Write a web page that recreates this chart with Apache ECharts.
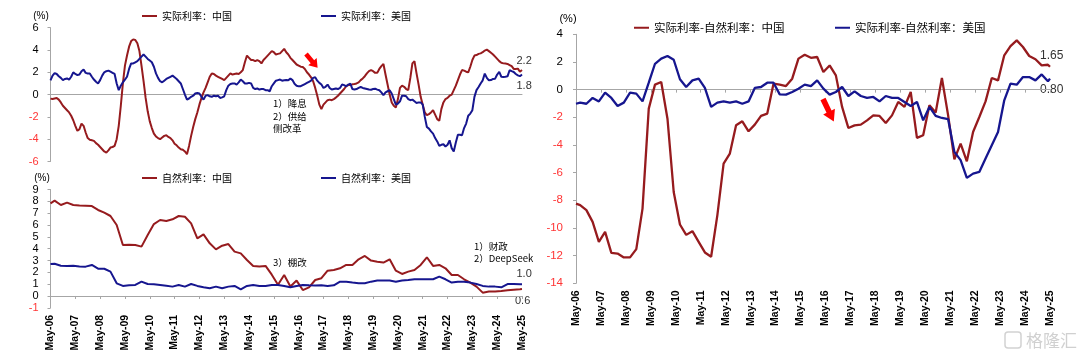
<!DOCTYPE html>
<html><head><meta charset="utf-8">
<script src="https://cdn.jsdelivr.net/npm/echarts@6/dist/echarts.min.js"></script>
<style>html,body{margin:0;padding:0;background:#fff}#c{width:1080px;height:355px}</style>
</head><body><div id="c"></div>
<script>
// monthly categories May-06 .. May-25
const MON=['Jan','Feb','Mar','Apr','May','Jun','Jul','Aug','Sep','Oct','Nov','Dec'];
const months=[];
for(let i=0;i<229;i++){const t=4+i;months.push(MON[t%12]+'-'+String(6+Math.floor(t/12)).padStart(2,'0'));}

// top-left: real rates (monthly)
const realChina=[
-0.36,-0.40,-0.35,-0.30,-0.45,-0.70,-1.00,-1.20,-1.40,-1.60,-1.90,-2.30,
-2.80,-3.25,-3.10,-2.60,-2.80,-3.40,-3.90,-4.05,-4.10,-4.15,-4.35,-4.50,
-4.70,-4.90,-5.10,-5.20,-5.00,-4.75,-4.70,-4.60,-4.00,-2.80,-1.00,1.00,
2.60,3.50,4.30,4.80,4.95,4.90,4.60,3.90,2.60,1.20,-0.30,-1.50,
-2.40,-3.00,-3.50,-3.75,-3.90,-4.00,-3.85,-3.70,-3.65,-3.80,-3.90,-4.10,
-4.40,-4.55,-4.75,-4.90,-4.95,-5.10,-5.35,-4.60,-3.70,-2.90,-2.20,-1.60,
-0.90,-0.30,0.20,0.60,1.10,1.60,1.90,1.85,1.70,1.60,1.50,1.40,
1.30,1.50,1.70,1.90,1.80,1.85,1.90,1.85,2.00,2.20,2.90,3.50,
3.30,3.10,3.10,3.00,3.10,3.00,2.80,3.10,3.30,3.50,3.70,3.90,
3.80,3.60,3.65,3.70,3.90,4.10,3.80,3.60,3.30,3.10,2.90,2.70,
2.60,2.50,2.47,2.30,2.00,1.80,1.55,1.20,0.60,-0.10,-0.90,-1.30,
-0.90,-0.70,-0.50,-0.45,-0.50,-0.40,-0.27,-0.10,0.10,0.30,0.50,0.75,
0.85,0.85,0.92,0.95,1.00,1.10,1.30,1.45,1.65,1.90,2.10,2.20,
2.10,1.95,1.95,2.30,2.55,2.75,1.80,0.90,0.00,-0.70,-1.00,-1.15,
-0.40,0.60,0.80,0.70,0.50,0.40,1.50,2.80,3.00,1.90,0.90,-0.20,
-0.90,-1.60,-1.85,-1.75,-1.60,-1.40,-1.80,-2.20,-2.35,-1.30,-0.70,-0.40,
-0.30,-0.10,0.00,0.40,0.80,1.30,1.80,2.20,2.15,2.05,2.00,2.50,
3.10,3.50,3.55,3.65,3.70,3.80,3.95,4.03,3.90,3.75,3.60,3.40,
3.20,3.00,2.85,2.80,2.78,2.75,2.65,2.55,2.30,2.30,2.33,2.05,
2.20];
const realUS=[
1.28,1.70,1.93,1.85,1.65,1.50,1.30,1.40,1.45,1.35,1.60,2.00,
1.85,1.75,1.80,2.10,2.25,1.95,1.90,1.90,1.60,1.35,1.15,1.00,
1.30,1.70,2.00,2.10,2.15,2.05,1.95,1.85,1.00,0.40,0.80,1.10,
1.35,1.60,2.30,2.80,2.80,2.90,3.00,3.20,3.40,3.60,3.40,3.20,
3.05,2.90,2.50,1.90,1.50,1.20,1.10,1.25,1.40,1.50,1.60,1.70,
1.55,1.40,1.20,1.00,0.50,0.00,-0.45,-0.35,-0.20,-0.10,0.10,0.15,
0.10,-0.20,-0.45,-0.10,-0.05,-0.15,-0.20,-0.10,-0.15,-0.10,-0.30,-0.25,
-0.15,0.40,0.80,0.95,1.00,1.00,0.90,1.10,1.35,1.20,1.00,1.00,
1.05,1.00,0.60,0.50,0.55,0.45,0.50,0.50,0.40,0.40,0.30,0.75,
1.00,1.25,1.30,1.35,1.25,1.28,1.30,1.28,1.45,1.30,0.98,0.80,
0.74,0.75,0.85,0.95,1.05,1.15,1.25,1.50,1.55,1.25,1.05,0.90,
0.60,0.70,0.90,0.60,0.45,0.50,0.55,0.50,0.60,0.90,0.85,0.74,
0.90,0.98,0.50,0.45,0.50,0.60,0.68,0.60,0.55,0.50,0.45,0.44,
0.50,0.53,0.45,0.39,0.20,-0.06,0.20,0.30,0.39,0.10,-0.40,-0.90,
-0.80,-0.60,-0.10,-0.10,-0.15,-0.40,-0.50,-0.45,-0.60,-0.75,-0.70,-0.70,
-0.90,-2.00,-2.90,-3.05,-3.30,-3.50,-3.90,-4.20,-4.60,-4.50,-4.45,-4.65,
-4.50,-4.10,-4.80,-5.10,-4.30,-3.60,-3.60,-3.65,-3.00,-2.60,-1.90,-1.70,
-1.40,-0.20,0.40,0.68,1.00,1.28,1.88,1.50,1.28,1.30,1.40,1.43,
1.80,2.03,1.60,1.58,1.60,1.64,2.18,2.10,2.03,1.85,1.73,1.65,
1.80];

// quarterly observation months (index into months)
const qMonths=[
0,2,5,8,11,14,17,20,23,26,29,
32,35,38,41,44,47,50,53,56,59,62,
65,68,71,74,77,80,83,86,89,92,95,
98,101,104,107,110,113,116,119,122,125,128,
131,134,137,140,143,146,149,152,155,158,161,
164,167,170,173,176,179,182,185,188,191,194,
197,200,203,206,209,212,215,218,221,224,227,
228];
// bottom-left: natural rates
const naturalChina=[
7.83,8.06,7.69,7.89,7.69,7.65,7.63,7.6,7.27,7.04,6.76,
6.0,4.31,4.34,4.31,4.17,5.15,6.08,6.42,6.34,6.48,6.76,
6.7,6.14,4.87,5.21,4.45,3.94,4.25,4.39,3.75,3.6,3.04,
2.54,2.5,2.54,1.8,0.95,1.77,0.8,1.3,0.5,0.73,1.35,
1.5,2.14,2.2,2.34,2.62,2.62,3.1,3.38,2.99,2.9,2.82,
3.1,2.14,1.86,2.06,2.2,2.62,3.27,2.54,2.62,2.34,1.77,
1.77,1.41,1.13,0.79,0.28,0.37,0.37,0.42,0.48,0.52,0.56,
0.58];
const naturalUS=[
2.7,2.72,2.55,2.54,2.56,2.5,2.48,2.62,2.31,2.3,2.06,
1.07,0.85,0.9,0.93,1.21,1.01,0.99,0.93,0.87,0.79,0.93,
0.79,1.01,0.85,0.73,0.65,0.79,0.65,0.79,0.85,0.56,0.85,
0.93,0.85,0.85,0.93,0.93,0.85,0.73,0.85,0.93,0.9,0.88,
0.9,0.85,0.9,1.21,1.21,1.13,1.07,1.07,1.21,1.3,1.3,
1.3,1.21,1.3,1.35,1.41,1.41,1.41,1.41,1.63,1.41,1.13,
1.21,1.21,1.13,1.01,0.85,0.79,0.79,0.73,1.01,1.01,1.0,
1.0];
// right: real minus natural
const gapChina=[
-8.24,-8.35,-8.71,-9.56,-11.0,-10.28,-11.8,-11.85,-12.13,-12.13,-11.53,
-8.6,-1.37,0.36,0.55,-2.1,-7.4,-9.75,-10.5,-10.23,-11.0,-11.77,
-12.08,-9.07,-5.35,-4.62,-2.58,-2.29,-3.01,-2.53,-1.9,-1.73,0.43,
0.36,0.26,0.79,2.24,2.52,2.3,2.36,1.27,1.75,1.03,-1.25,
-2.77,-2.58,-2.53,-2.22,-1.86,-1.9,-2.41,-1.86,-0.89,-1.25,-0.17,
-3.49,-3.3,-1.13,-1.66,0.84,-1.86,-5.04,-3.9,-5.18,-3.06,-1.98,
-0.85,0.84,0.67,2.48,3.15,3.56,3.08,2.43,2.2,1.75,1.8,
1.65];
const gapUS=[
-1.02,-0.94,-1.02,-0.6,-0.85,-0.22,-0.6,-1.18,-0.94,-0.22,-0.29,
-0.85,0.5,1.87,2.24,2.43,2.16,0.75,0.19,0.67,0.79,0.12,
-1.25,-0.94,-0.85,-0.94,-0.85,-1.02,-0.85,0.12,0.19,0.5,0.5,
-0.34,-0.36,-0.17,0.07,0.36,0.26,0.67,0.07,-0.36,-0.17,0.19,
-0.46,-0.12,-0.46,-0.6,-0.53,-0.85,-0.46,-0.6,-0.6,-0.89,-1.18,
-0.89,-2.22,-1.25,-1.9,-2.05,-2.14,-4.5,-5.1,-6.38,-6.07,-5.95,
-4.98,-4.02,-3.06,-0.77,0.43,0.36,0.91,0.91,0.67,1.1,0.6,
0.8];

const names=['实际利率：中国','实际利率：美国','自然利率：中国','自然利率：美国','实际利率-自然利率：中国','实际利率-自然利率：美国'];
const RED='#961b1e', BLUE='#16168f', AX='#a6a6a6';
const NUM='"Liberation Sans", Arial, sans-serif';
const CJK='"Noto Sans CJK SC", sans-serif';
const q=vals=>qMonths.map((m,i)=>[m,vals[i]]);
const last=a=>a[a.length-1];

const chart=echarts.init(document.getElementById('c'),null,{renderer:'canvas'});
const xBase={type:'category',data:months,boundaryGap:false};
const zeroAxis=(g,ticks)=>Object.assign({},xBase,{gridIndex:g,position:'top',
  axisLine:{show:true,onZero:true,lineStyle:{color:AX,width:1}},
  axisTick:{show:ticks,inside:true,length:3,interval:11,lineStyle:{color:AX}},
  axisLabel:{show:false},splitLine:{show:false}});
const labelAxis=g=>Object.assign({},xBase,{gridIndex:g,position:'bottom',
  axisLine:{show:false,onZero:false},axisTick:{show:false},splitLine:{show:false},
  axisLabel:{show:true,interval:11,rotate:90,margin:7,fontSize:10.5,fontWeight:'bold',color:'#000',fontFamily:NUM}});
const yAx=(g,min,max,iv,fs,mg)=>({type:'value',gridIndex:g,min:min,max:max,interval:iv,
  axisLine:{show:true,onZero:false,lineStyle:{color:AX}},
  axisTick:{show:true,length:3,lineStyle:{color:AX}},
  splitLine:{show:false},
  axisLabel:{margin:mg,fontSize:fs,fontFamily:NUM,color:v=>(parseFloat(v)<0?'#ff3535':'#000')}});
const legBase={icon:'rect',itemWidth:15,itemHeight:2,padding:0,itemGap:0,selectedMode:false,textStyle:{fontSize:10,color:'#000',fontFamily:CJK}};
const leg=(n,l,t,fs)=>Object.assign({},legBase,{data:[n],left:l,top:t,textStyle:{fontSize:fs,color:'#000',fontFamily:CJK}});
const txt=(s,x,y,fs,fam,col,al)=>({type:'text',x:x,y:y,silent:true,style:{text:s,fill:col||'#000',font:fs+'px '+fam,align:al||'left',verticalAlign:'middle'}});
const line=(n,xi,yi,d,c,w)=>({name:n,type:'line',xAxisIndex:xi,yAxisIndex:yi,data:d,symbol:'none',showSymbol:false,
  lineStyle:{color:c,width:w},itemStyle:{color:c},emphasis:{disabled:true},z:3});

chart.setOption({
  animation:false,
  backgroundColor:'#fff',
  grid:[
    {left:50.5,top:27.7,width:471.5,height:133.8},
    {left:50.5,top:189.5,width:471.5,height:118.3},
    {left:576,top:34.3,width:474,height:249}
  ],
  xAxis:[
    zeroAxis(0,false),
    zeroAxis(1,true),labelAxis(1),
    zeroAxis(2,true),labelAxis(2)
  ],
  yAxis:[yAx(0,-6,6,2,11,12),yAx(1,-1,9,1,11,12),yAx(2,-14,4,2,11.5,13)],
  legend:[
    leg(names[0],142,11,10),leg(names[1],321,11,10),
    leg(names[2],142,173,10),leg(names[3],321,173,10),
    leg(names[4],634,22,11.5),leg(names[5],835,22,11.5)
  ],
  series:[
    line(names[0],0,0,realChina,RED,2),
    line(names[1],0,0,realUS,BLUE,2),
    line(names[2],2,1,q(naturalChina),RED,2),
    line(names[3],2,1,q(naturalUS),BLUE,2),
    line(names[4],4,2,q(gapChina),RED,2.3),
    line(names[5],4,2,q(gapUS),BLUE,2.3)
  ],
  graphic:[
    txt('(%)',41,16,10,NUM,'#000','center'),
    txt('(%)',42,178,10,NUM,'#000','center'),
    txt('(%)',568,19,11,NUM,'#000','center'),
    txt('1）降息',273,103,9.5,CJK),
    txt('2）供给',273,116,9.5,CJK),
    txt('侧改革',273,128.5,9.5,CJK),
    txt('3）棚改',273,262,9.5,CJK),
    txt('1）财政',474,246.5,9.5,CJK),
    txt('2）DeepSeek',474,258.5,9.5,CJK),
    txt(last(realChina).toFixed(1),516.5,61,11,NUM,'#333'),
    txt(last(realUS).toFixed(1),516.5,86,11,NUM,'#333'),
    txt(last(naturalUS).toFixed(1),516.5,273.5,11,NUM,'#333'),
    txt(last(naturalChina).toFixed(1),515,301,11,NUM,'#333'),
    txt(last(gapChina).toFixed(2),1040,56,12,NUM,'#333'),
    txt(last(gapUS).toFixed(2),1040,89.5,12,NUM,'#333'),
    {type:'polygon',x:306,y:54,rotation:-0.87,silent:true,z:10,
      shape:{points:[[0,-2.3],[10,-2.3],[10,-5.5],[18,0],[10,5.5],[10,2.3],[0,2.3]]},style:{fill:'#ff0000'}},
    {type:'polygon',x:823,y:99,rotation:-1.124,silent:true,z:10,
      shape:{points:[[0,-2.8],[14,-2.8],[14,-6.5],[25,0],[14,6.5],[14,2.8],[0,2.8]]},style:{fill:'#ff0000'}},
    {type:'rect',x:1005,y:332,silent:true,shape:{width:16,height:16,r:3},style:{fill:'none',stroke:'#d2d2d2',lineWidth:1.5}},
    txt('格隆汇',1026,341,17,CJK,'#d0d0d0')
  ]
});
</script></body></html>
